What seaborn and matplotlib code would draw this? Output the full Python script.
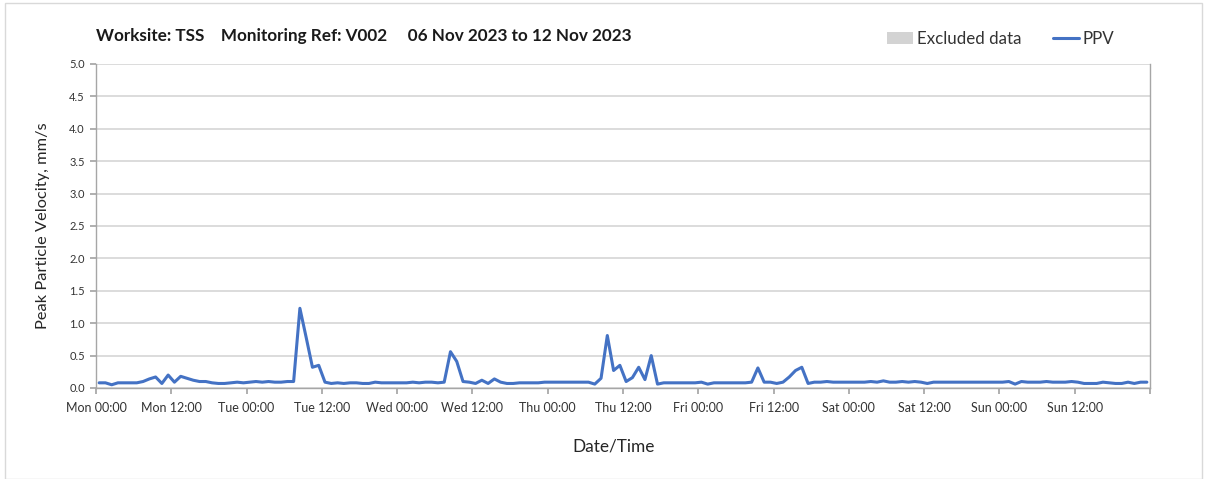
import matplotlib
matplotlib.use("Agg")
import matplotlib.pyplot as plt
import matplotlib.dates as mdates
from matplotlib.ticker import FuncFormatter
from matplotlib.patches import Patch, Rectangle
from matplotlib.lines import Line2D
import pandas as pd
import seaborn as sns

# Hourly PPV readings (mm/s), one list per day, Mon 06 Nov 2023 .. Sun 12 Nov 2023
mon = [0.08, 0.08, 0.05, 0.08, 0.08, 0.08, 0.08, 0.10, 0.14, 0.17, 0.07, 0.20,
       0.09, 0.18, 0.15, 0.12, 0.10, 0.10, 0.08, 0.07, 0.07, 0.08, 0.09, 0.08]
tue = [0.09, 0.10, 0.09, 0.10, 0.09, 0.09, 0.10, 0.10, 1.23, 0.78, 0.32, 0.35,
       0.09, 0.07, 0.08, 0.07, 0.08, 0.08, 0.07, 0.07, 0.09, 0.08, 0.08, 0.08]
wed = [0.08, 0.08, 0.09, 0.08, 0.09, 0.09, 0.08, 0.09, 0.56, 0.41, 0.10, 0.09,
       0.07, 0.12, 0.07, 0.14, 0.09, 0.07, 0.07, 0.08, 0.08, 0.08, 0.08, 0.09]
thu = [0.09, 0.09, 0.09, 0.09, 0.09, 0.09, 0.09, 0.06, 0.15, 0.81, 0.27, 0.35,
       0.10, 0.16, 0.32, 0.13, 0.50, 0.06, 0.08, 0.08, 0.08, 0.08, 0.08, 0.08]
fri = [0.09, 0.06, 0.08, 0.08, 0.08, 0.08, 0.08, 0.08, 0.09, 0.31, 0.09, 0.09,
       0.07, 0.09, 0.17, 0.27, 0.32, 0.07, 0.09, 0.09, 0.10, 0.09, 0.09, 0.09]
sat = [0.09, 0.09, 0.09, 0.10, 0.09, 0.11, 0.09, 0.09, 0.10, 0.09, 0.10, 0.09,
       0.07, 0.09, 0.09, 0.09, 0.09, 0.09, 0.09, 0.09, 0.09, 0.09, 0.09, 0.09]
sun = [0.09, 0.10, 0.06, 0.10, 0.09, 0.09, 0.09, 0.10, 0.09, 0.09, 0.09, 0.10,
       0.09, 0.07, 0.07, 0.07, 0.09, 0.08, 0.07, 0.07, 0.09, 0.07, 0.09, 0.09]

ppv = mon + tue + wed + thu + fri + sat + sun
times = pd.date_range("2023-11-06 00:30", periods=len(ppv), freq="h")
df = pd.DataFrame({"Date/Time": times, "PPV": ppv})

title = "Worksite: TSS    Monitoring Ref: V002     06 Nov 2023 to 12 Nov 2023"
y_ticks = [0.0, 0.5, 1.0, 1.5, 2.0, 2.5, 3.0, 3.5, 4.0, 4.5, 5.0]
x_start = pd.Timestamp("2023-11-06 00:00")
x_end = pd.Timestamp("2023-11-13 00:00")

sns.set_theme(style="white")
plt.rcParams["font.family"] = ["Lato", "DejaVu Sans"]

W, H = 1208, 479
fig = plt.figure(figsize=(W / 100, H / 100), dpi=100)
fig.patches.append(Rectangle((5 / W, 0), 1197 / W, 1 - 3 / H, transform=fig.transFigure,
                             fill=False, edgecolor="#d9d9d9", linewidth=1.0))

ax = fig.add_axes([96 / W, 1 - 388 / H, (1150 - 96) / W, (388 - 64) / H])
sns.lineplot(data=df, x="Date/Time", y="PPV", ax=ax, color="#4472C4",
             linewidth=2.2, legend=False)

ax.set_xlim(x_start, x_end)
ax.set_ylim(0, 5.0)
ax.set_yticks(y_ticks)
ax.set_yticklabels([f"{v:.1f}" for v in y_ticks])

end_num = mdates.date2num(x_end)


def fmt(x, pos):
    if abs(x - end_num) < 1e-6:
        return ""
    return mdates.num2date(x).strftime("%a %H:%M")


ax.xaxis.set_major_locator(mdates.HourLocator(byhour=[0, 12]))
ax.xaxis.set_major_formatter(FuncFormatter(fmt))
ax.xaxis.set_minor_locator(mdates.DayLocator())

ax.grid(False)
ax.yaxis.grid(True, color="#d9d9d9", linewidth=1.3)
ax.xaxis.grid(True, which="minor", color="#d9d9d9", linewidth=1.0)
ax.set_axisbelow(True)

for side in ["left", "bottom", "right"]:
    ax.spines[side].set_color("#a6a6a6")
    ax.spines[side].set_linewidth(1.0)
ax.spines["top"].set_visible(False)

ax.tick_params(axis="x", which="major", length=4, color="#a6a6a6", labelsize=9,
               labelcolor="#333333", pad=6, bottom=True)
ax.tick_params(axis="x", which="minor", length=0)
ax.tick_params(axis="y", length=4, color="#a6a6a6", labelsize=8, labelcolor="#333333",
               left=True, pad=4)

ax.set_xlabel("Date/Time", fontsize=12.4, color="#262626")
ax.xaxis.set_label_coords(0.4915, -0.155)
ax.set_ylabel("Peak Particle Velocity, mm/s", fontsize=11.8, color="#262626", labelpad=14)

fig.text(96 / W, 1 - 36 / H, title, fontsize=12.3, fontweight="bold",
         color="#1a1a1a", ha="left", va="center")

handles = [Patch(facecolor="#d3d3d3", edgecolor="none", label="Excluded data"),
           Line2D([], [], color="#4472C4", linewidth=2.2, label="PPV")]
fig.legend(handles=handles, loc="center left", bbox_to_anchor=(872 / W, 1 - 39 / H),
           ncol=2, frameon=False, fontsize=12.2, handlelength=1.5, handletextpad=0.23,
           columnspacing=1.9, labelcolor="#333333")

fig.savefig("out.png", dpi=100, facecolor="white")
